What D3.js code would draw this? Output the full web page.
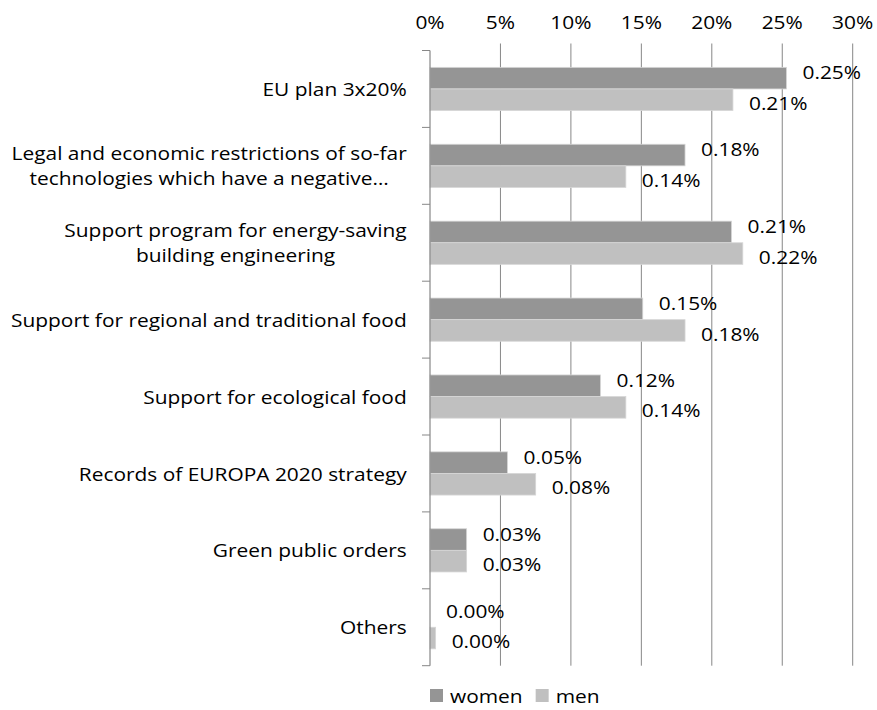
<!DOCTYPE html>
<html>
<head>
<meta charset="utf-8">
<script src="https://cdn.jsdelivr.net/npm/d3@7"></script>
<style>
  html, body { margin: 0; padding: 0; background: #fff; }
  svg text { font-family: "Open Sans", sans-serif; fill: #000; }
</style>
</head>
<body>
<svg id="chart" width="877" height="710"></svg>
<script>
// ---- data ----
const categories = [
  ["EU plan 3x20%"],
  ["Legal and economic restrictions of so-far", "technologies which have a negative…"],
  ["Support program for energy-saving", "building engineering"],
  ["Support for regional and traditional food"],
  ["Support for ecological food"],
  ["Records of EUROPA 2020 strategy"],
  ["Green public orders"],
  ["Others"]
];
const seriesNames = ["women", "men"];
const women = [25.3, 18.1, 21.4, 15.1, 12.1, 5.5, 2.6, 0.0];
const men   = [21.5, 13.9, 22.2, 18.1, 13.9, 7.5, 2.6, 0.4];
const womenLabels = ["0.25%", "0.18%", "0.21%", "0.15%", "0.12%", "0.05%", "0.03%", "0.00%"];
const menLabels   = ["0.21%", "0.14%", "0.22%", "0.18%", "0.14%", "0.08%", "0.03%", "0.00%"];
const xTicks = [0, 5, 10, 15, 20, 25, 30];

// ---- layout ----
const svg = d3.select("#chart");
const pLeft = 430, pRight = 852.7, pTop = 50.5, pBottom = 665.7;
const fontSize = 19;
const sx = 1.10; // horizontal text stretch
const colors = { women: "#959595", men: "#c0c0c0" };

const x = d3.scaleLinear().domain([0, 30]).range([pLeft, pRight]);
const y = d3.scaleBand().domain(d3.range(categories.length)).range([pTop, pBottom]);
const barH = 21.6;

function addText(parent, tx, ty, str, anchor) {
  return parent.append("text")
    .attr("transform", `translate(${tx},${ty}) scale(${sx},1)`)
    .attr("text-anchor", anchor || "start")
    .attr("dominant-baseline", "central")
    .attr("font-size", fontSize)
    .text(str);
}

// gridlines + top ticks
const gx = svg.append("g");
gx.selectAll("line").data(xTicks.filter(t => t > 0)).join("line")
  .attr("x1", d => x(d)).attr("x2", d => x(d))
  .attr("y1", pTop - 7).attr("y2", pBottom)
  .attr("stroke", "#878787").attr("stroke-width", 1);
xTicks.forEach(t => addText(gx, x(t), 22, t + "%", "middle"));

// bars
const rows = categories.map((c, i) => ({ i, women: women[i], men: men[i], wl: womenLabels[i], ml: menLabels[i] }));
const g = svg.append("g");
rows.forEach(r => {
  const c = y(r.i) + y.bandwidth() / 2;
  seriesNames.forEach((s, k) => {
    const y0 = c - barH + k * barH;
    if (r[s] > 0) {
      g.append("rect")
        .attr("x", x(0)).attr("y", y0)
        .attr("width", x(r[s]) - x(0)).attr("height", barH)
        .attr("fill", colors[s]).attr("stroke", "#d6d6d6").attr("stroke-width", 0.8);
    }
    addText(g, x(r[s]) + 16, y0 + barH / 2 + (k === 0 ? -6 : 3), k === 0 ? r.wl : r.ml);
  });
});

// category axis
const ax = svg.append("g");
ax.append("line").attr("x1", pLeft).attr("x2", pLeft).attr("y1", pTop).attr("y2", pBottom)
  .attr("stroke", "#878787").attr("stroke-width", 1.2);
ax.selectAll("line.tk").data(d3.range(categories.length + 1)).join("line").attr("class", "tk")
  .attr("x1", pLeft - 8).attr("x2", pLeft)
  .attr("y1", d => pTop + d * y.bandwidth()).attr("y2", d => pTop + d * y.bandwidth())
  .attr("stroke", "#878787").attr("stroke-width", 1);

const labelRight = 406.7;
categories.forEach((lines, i) => {
  const c = y(i) + y.bandwidth() / 2;
  const ts = lines.map((ln, j) => addText(ax, 0, c + (j - (lines.length - 1) / 2) * 25, ln, "middle"));
  const maxW = d3.max(ts, t => t.node().getComputedTextLength()) * sx;
  const cx = labelRight - maxW / 2;
  ts.forEach((t, j) => t.attr("transform", `translate(${cx},${c + (j - (lines.length - 1) / 2) * 25}) scale(${sx},1)`));
});

// legend
const lg = svg.append("g");
let lx = 430;
seriesNames.forEach(s => {
  lg.append("rect").attr("x", lx).attr("y", 689).attr("width", 13).attr("height", 13).attr("fill", colors[s]);
  const tt = addText(lg, lx + 20, 696, s);
  lx += 20 + tt.node().getComputedTextLength() * sx + 13;
});
</script>
</body>
</html>
